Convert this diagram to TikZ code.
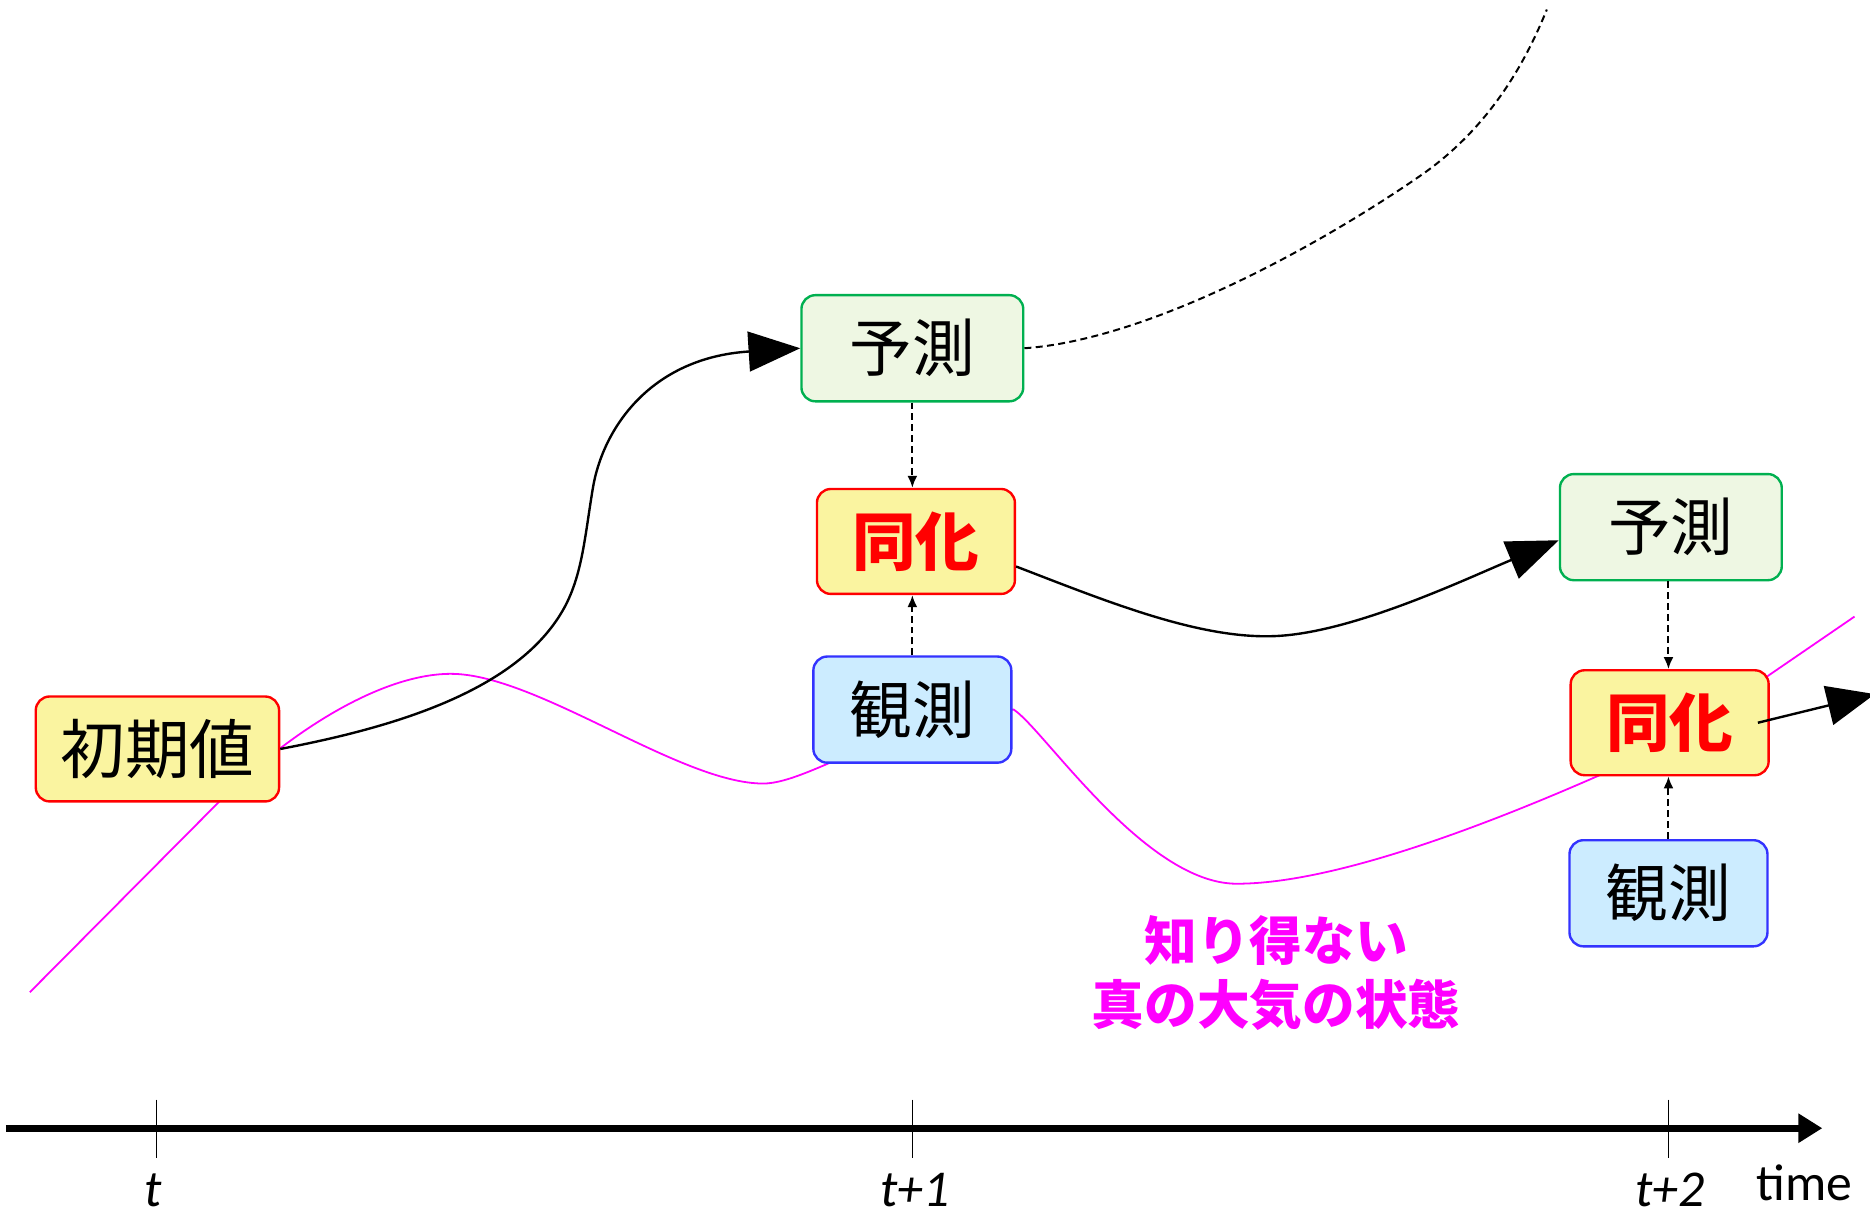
\documentclass[tikz,border=0pt]{standalone}
\usepackage{fontspec}
\newfontfamily\jp{Noto Sans CJK JP}
\newfontfamily\lat{Carlito}
\usetikzlibrary{arrows.meta,calc,backgrounds}
\definecolor{boxyellow}{HTML}{FAF4A0}
\definecolor{boxred}{HTML}{FF0000}
\definecolor{boxgreenfill}{HTML}{EEF7E3}
\definecolor{boxgreen}{HTML}{00B050}
\definecolor{boxbluefill}{HTML}{CCECFF}
\definecolor{boxblue}{HTML}{3333FF}
\definecolor{truth}{HTML}{FF00FF}
\begin{document}
\begin{tikzpicture}[x=0.6pt,y=-0.6pt,
 box/.style={rounded corners=7pt, line width=1.2pt, inner sep=0pt, font=\jp\fontsize{31.5}{31.5}\selectfont},
 initbox/.style={box, draw=boxred, fill=boxyellow, minimum width=122.4pt, minimum height=52.8pt, font=\jp\fontsize{32.5}{32.5}\selectfont},
 predbox/.style={box, draw=boxgreen, fill=boxgreenfill, minimum width=111.6pt, minimum height=53.4pt},
 assimbox/.style={box, draw=boxred, fill=boxyellow, text=boxred, minimum width=99.6pt, minimum height=52.8pt, font=\jp\bfseries\fontsize{32}{32}\selectfont},
 obsbox/.style={box, draw=boxblue, fill=boxbluefill, minimum width=99.6pt, minimum height=53.4pt},
 flow/.style={line width=1.2pt, -{Triangle[length=26pt,width=20pt]}},
 forecastline/.style={line width=1pt, dash pattern=on 3.5pt off 2.2pt},
 dasharrow/.style={line width=1pt, dash pattern=on 3.5pt off 2pt, -{Latex[length=6pt,width=5pt]}},
 truthline/.style={draw=truth, line width=0.9pt},
 axisline/.style={line width=3.6pt, -{Triangle[length=12pt,width=14pt]}},
 tickline/.style={line width=0.6pt},
 lbl/.style={font=\lat\fontsize{26}{26}\selectfont, inner sep=0pt}
]
\useasboundingbox (0,0) rectangle (1568,1020);

% boxes
\node[initbox] (init) at (132,628) {初期値};
\node[predbox] (pred1) at (765,292) {予測};
\node[assimbox] (assim1) at (768,454) {同化};
\node[obsbox] (obs1) at (765,595) {観測};
\node[predbox] (pred2) at (1401,442) {予測};
\node[assimbox] (assim2) at (1400,606) {同化};
\node[obsbox] (obs2) at (1399,749) {観測};

% true state (behind boxes)
\begin{scope}[on background layer]
\draw[truthline] (25,832) -- (183,673)
  .. controls (243,613) and (320,565) .. (378,565)
  .. controls (450,565) and (570,657) .. (640,657)
  .. controls (680,657) and (760,596) .. (850,595)
  .. controls (875,611) and (960,741) .. (1037,741)
  .. controls (1120,741) and (1250,690) .. (1339,651)
  .. controls (1400,624) and (1440,595) .. (1482,567)
  -- (1555,517);
\end{scope}

% forecast connectors
\draw[flow] (init.east) .. controls (330,610) and (430,580) .. (470,515)
  .. controls (488,486) and (490,452) .. (497,410)
  .. controls (505,360) and (545,300) .. (pred1.west);
\draw[flow] ([yshift=-12.6pt]assim1.east) .. controls (930,505) and (1010,538) .. (1075,533)
  .. controls (1140,528) and (1230,485) .. ([yshift=-6.6pt]pred2.west);
\coordinate (outend) at (1572,582);
\draw[line width=1.2pt, -{Triangle[length=24pt,width=20pt]}] ([xshift=-6pt]assim2.east) -- (outend);

% unassimilated forecast
\coordinate (freeend) at (1297,8);
\draw[forecastline] (pred1.east) .. controls (960,285) and (1100,210) .. (1190,148)
  .. controls (1250,107) and (1280,50) .. (freeend);

% dashed inputs to assimilation
\draw[dasharrow] (pred1.south) -- (pred1.south |- assim1.north);
\draw[dasharrow] (obs1.north) -- (obs1.north |- assim1.south);
\draw[dasharrow] (pred2.south -| obs2.north) -- (obs2.north |- assim2.north);
\draw[dasharrow] (obs2.north) -- (obs2.north |- assim2.south);

% label of true state
\node[font=\jp\bfseries\fontsize{26.5}{32}\selectfont, text=truth, align=center] (truthlbl) at (1070,816) {知り得ない\\真の大気の状態};

% time axis
\coordinate (axstart) at (5,946);
\coordinate (axend) at (1528,946);
\draw[axisline] (axstart) -- (axend);
\draw[tickline] (131,922) -- (131,971);
\draw[tickline] (765,922) -- (765,971);
\draw[tickline] (1399,922) -- (1399,971);
\node[lbl] (lt) at (128,998) {\itshape t};
\node[lbl] (lt1) at (767,998) {\itshape t+1};
\node[lbl] (lt2) at (1400,998) {\itshape t+2};
\node[lbl] (ltime) at (1513,992) {time};
\end{tikzpicture}
\end{document}
